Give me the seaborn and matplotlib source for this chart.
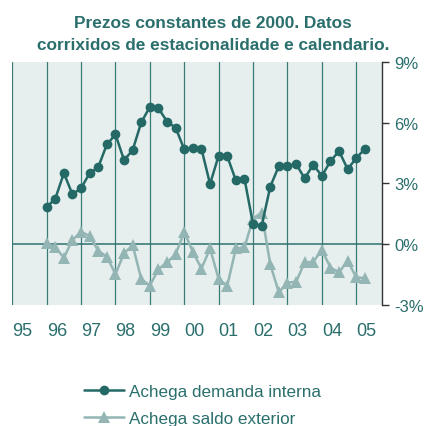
import numpy as np
import pandas as pd
import seaborn as sns
import matplotlib
matplotlib.use("Agg")
import matplotlib.pyplot as plt

# Quarterly data, 1996Q1 .. 2005Q2
start_year = 1996
demanda_interna = [1.84, 2.25, 3.51, 2.46, 2.77, 3.51, 3.81, 4.93, 5.42, 4.15,
                   4.65, 6.02, 6.78, 6.71, 6.06, 5.75, 4.68, 4.73, 4.71, 2.97,
                   4.38, 4.35, 3.15, 3.24, 0.99, 0.90, 2.84, 3.86, 3.86, 3.97,
                   3.25, 3.93, 3.37, 4.10, 4.60, 3.71, 4.25, 4.71]
saldo_exterior = [0.05, -0.16, -0.66, 0.21, 0.61, 0.41, -0.33, -0.61, -1.48, -0.44,
                  -0.05, -1.72, -2.05, -1.23, -0.90, -0.49, 0.61, -0.38, -1.20, -0.21,
                  -1.72, -2.05, -0.21, -0.16, 1.27, 1.56, -0.99, -2.38, -1.89, -1.86,
                  -0.90, -0.87, -0.28, -1.15, -1.39, -0.82, -1.64, -1.67]
year_ticks = list(range(1995, 2006))
year_labels = ["95", "96", "97", "98", "99", "00", "01", "02", "03", "04", "05"]
y_ticks = [-3, 0, 3, 6, 9]
y_labels = ["-3%", "0%", "3%", "6%", "9%"]
series_names = ["Achega demanda interna", "Achega saldo exterior"]
title = "Prezos constantes de 2000. Datos\ncorrixidos de estacionalidade e calendario."

sns.set_theme(style="white")
plt.rcParams['font.family'] = ['Liberation Sans', 'DejaVu Sans']

dark = "#246966"
light = "#93b5b4"
text_c = "#2a6f6c"

t = start_year + np.arange(len(demanda_interna)) / 4.0
df = pd.DataFrame({"t": t, "d": demanda_interna, "s": saldo_exterior})

fig = plt.figure(figsize=(4.24, 4.27), dpi=100)
ax = fig.add_axes([0.029, 0.2834, 0.872, 0.5691])
ax.set_facecolor("#e6efee")

sns.lineplot(data=df, x="t", y="d", ax=ax, color=dark, linewidth=1.8,
             marker="o", markersize=7, markeredgewidth=0, label=series_names[0], zorder=3)
sns.lineplot(data=df, x="t", y="s", ax=ax, color=light, linewidth=1.8,
             marker="^", markersize=8, markeredgewidth=0, label=series_names[1], zorder=2.5)

ax.set_xlim(1995, 2005.75)
ax.set_ylim(-3, 9)
ax.set_xlabel("")
ax.set_ylabel("")

for yr in year_ticks:
    ax.axvline(yr, color="#3a7b78", linewidth=0.9, zorder=0.5)
ax.axhline(0, color="#2e716e", linewidth=1.1, zorder=0.6)

ax.set_xticks(year_ticks)
ax.set_xticklabels(year_labels, ha="left", color=text_c, fontsize=13)
ax.tick_params(axis="x", length=0, pad=12)

ax.yaxis.tick_right()
ax.set_yticks(y_ticks)
ax.set_yticklabels(y_labels, color=text_c, fontsize=12)
ax.tick_params(axis="y", length=5, width=1, color="#333333", pad=4, right=True, left=False)

for side in ["top", "bottom", "left"]:
    ax.spines[side].set_visible(False)
ax.spines["right"].set_color("#333333")
ax.spines["right"].set_linewidth(1)

handles, labels = ax.get_legend_handles_labels()
ax.legend_.remove()
fig.legend(handles, labels, loc="upper left", bbox_to_anchor=(0.197, 0.099),
           frameon=False, fontsize=12.3, handlelength=2.35, handletextpad=0.3,
           labelspacing=0.7, labelcolor=text_c, borderaxespad=0, borderpad=0)

fig.text(0.503, 0.962, title, ha="center", va="top", fontsize=12.4,
         fontweight="bold", color=text_c, linespacing=1.55)

fig.savefig("out.png", dpi=100)
